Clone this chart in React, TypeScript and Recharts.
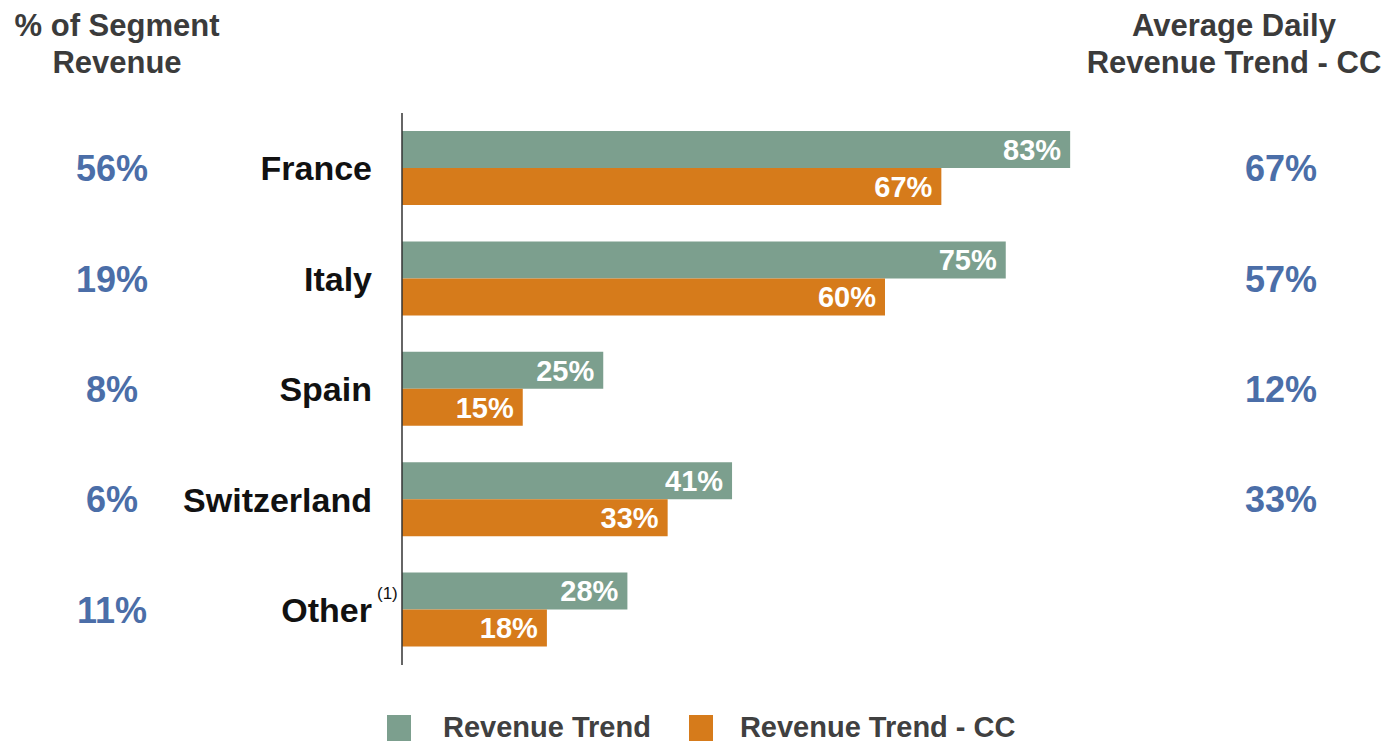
import { BarChart, Bar, XAxis, YAxis, LabelList } from 'recharts';

const regions = ['France', 'Italy', 'Spain', 'Switzerland', 'Other'];
const revenueTrend = [83, 75, 25, 41, 28];
const revenueTrendCC = [67, 60, 15, 33, 18];
const segmentShare = [56, 19, 8, 6, 11];
const avgDailyTrendCC: (number | null)[] = [67, 57, 12, 33, null];

const GREEN = '#7c9f8e';
const ORANGE = '#d67b1b';
const BLUE = '#4b6ea8';
const FONT = '"Liberation Sans", Arial, sans-serif';

const data = regions.map((name, i) => ({
  name,
  trend: revenueTrend[i],
  trendCC: revenueTrendCC[i],
}));

const RegionTick = (props: any) => {
  const { y, payload, index } = props;
  const share = segmentShare[index];
  const daily = avgDailyTrendCC[index];
  return (
    <g fontFamily={FONT} fontWeight="bold">
      <text x={112} y={y} dy="0.36em" textAnchor="middle" fontSize={36} fill={BLUE}>
        {share}%
      </text>
      <text x={372} y={y} dy="0.36em" textAnchor="end" fontSize={34} fill="#111">
        {payload.value}
      </text>
      {payload.value === 'Other' && (
        <text x={377} y={y - 11} textAnchor="start" fontSize={17} fontWeight="normal" fill="#111">
          (1)
        </text>
      )}
      {daily !== null && (
        <text x={1281} y={y} dy="0.36em" textAnchor="middle" fontSize={36} fill={BLUE}>
          {daily}%
        </text>
      )}
    </g>
  );
};

const headerStyle: React.CSSProperties = {
  position: 'absolute',
  top: 7,
  fontFamily: FONT,
  fontWeight: 'bold',
  fontSize: 31,
  lineHeight: '37px',
  color: '#3b3b3b',
  textAlign: 'center',
};

const legendText: React.CSSProperties = {
  fontFamily: FONT,
  fontWeight: 'bold',
  fontSize: 29,
  color: '#404040',
};

export default function App() {
  return (
    <div style={{ position: 'absolute', left: 0, top: 0, width: 1388, height: 743, background: '#fff' }}>
      <div style={{ ...headerStyle, left: 0, width: 234 }}>
        % of Segment<br />Revenue
      </div>
      <div style={{ ...headerStyle, left: 1080, width: 308 }}>
        Average Daily<br />Revenue Trend - CC
      </div>
      <BarChart
        width={1388}
        height={743}
        data={data}
        layout="vertical"
        margin={{ top: 113, right: 181, bottom: 78, left: 0 }}
        barGap={0}
      >
        <XAxis type="number" domain={[0, 100]} hide />
        <YAxis
          type="category"
          dataKey="name"
          width={402}
          axisLine={{ stroke: '#333', strokeWidth: 1.5 }}
          tickLine={false}
          tick={RegionTick}
        />
        <Bar dataKey="trend" name="Revenue Trend" fill={GREEN} barSize={37} isAnimationActive={false}>
          <LabelList
            dataKey="trend"
            position="insideRight"
            offset={9}
            fill="#fff"
            fontSize={29}
            fontWeight="bold"
            fontFamily={FONT}
            formatter={(v: any) => `${v}%`}
          />
        </Bar>
        <Bar dataKey="trendCC" name="Revenue Trend - CC" fill={ORANGE} barSize={37} isAnimationActive={false}>
          <LabelList
            dataKey="trendCC"
            position="insideRight"
            offset={9}
            fill="#fff"
            fontSize={29}
            fontWeight="bold"
            fontFamily={FONT}
            formatter={(v: any) => `${v}%`}
          />
        </Bar>
      </BarChart>
      <div style={{ position: 'absolute', top: 711, left: 387, display: 'flex', alignItems: 'center' }}>
        <span style={{ width: 24, height: 26, background: GREEN, display: 'inline-block' }} />
        <span style={{ ...legendText, marginLeft: 32 }}>Revenue Trend</span>
        <span style={{ width: 24, height: 26, background: ORANGE, display: 'inline-block', marginLeft: 38 }} />
        <span style={{ ...legendText, marginLeft: 27 }}>Revenue Trend - CC</span>
      </div>
    </div>
  );
}
